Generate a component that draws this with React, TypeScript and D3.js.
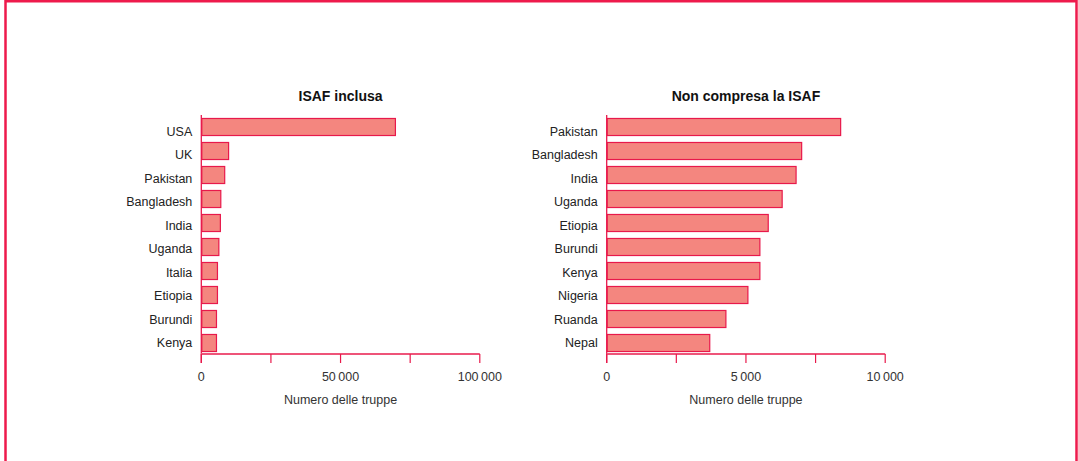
import React from 'react';
import * as d3 from 'd3';

const isafCountries = ['USA', 'UK', 'Pakistan', 'Bangladesh', 'India', 'Uganda', 'Italia', 'Etiopia', 'Burundi', 'Kenya'];
const isafTroops = [69700, 9800, 8400, 7000, 6850, 6300, 5800, 5800, 5450, 5450];
const isafTicks = [0, 25000, 50000, 75000, 100000];
const isafLabelled = [0, 50000, 100000];

const nonIsafCountries = ['Pakistan', 'Bangladesh', 'India', 'Uganda', 'Etiopia', 'Burundi', 'Kenya', 'Nigeria', 'Ruanda', 'Nepal'];
const nonIsafTroops = [8400, 7000, 6800, 6300, 5800, 5500, 5500, 5070, 4280, 3700];
const nonIsafTicks = [0, 2500, 5000, 7500, 10000];
const nonIsafLabelled = [0, 5000, 10000];

const axisTitle = 'Numero delle truppe';

const W = 1078;
const H = 461;
const FONT = '"Liberation Sans", Arial, sans-serif';
const RED = '#e8194b';
const AXIS = '#ee5479';
const FILL = '#f4867f';

const fmt = d3.formatLocale({ decimal: ',', thousands: '\u2009', grouping: [3], currency: ['', '€'] }).format(',d');

type PanelProps = {
    title: string;
    countries: string[];
    values: number[];
    max: number;
    ticks: number[];
    labelled: number[];
    left: number;
};

function Panel({ title, countries, values, max, ticks, labelled, left }: PanelProps) {
    const top = 115;
    const axisY = 354;
    const w = 278.5;

    const x = d3.scaleLinear().domain([0, max]).range([left, left + w]);
    const y = d3.scaleBand<string>()
        .domain(countries)
        .range([top, top + 240])
        .paddingInner(0.29)
        .paddingOuter(0.145);
    // the category labels sit on a slightly tighter pitch than the bars
    const yLabel = d3.scalePoint<string>().domain(countries).range([131.5, 343]);

    return (
        <g>
            <text x={x(max / 2)} y={101} textAnchor="middle" fontFamily={FONT} fontWeight="bold" fontSize={14} fill="#111">
                {title}
            </text>

            {countries.map((c, i) => (
                <g key={c}>
                    <rect
                        x={x(0) + 0.5}
                        y={(y(c) ?? 0)}
                        width={x(values[i]) - x(0) - 0.5}
                        height={y.bandwidth()}
                        fill={FILL}
                        stroke={RED}
                        strokeWidth={1.2}
                    />
                    <text
                        x={left - 9}
                        y={yLabel(c) ?? 0}
                        dy="0.35em"
                        textAnchor="end"
                        fontFamily={FONT}
                        fontSize={12.5}
                        fill="#222"
                    >
                        {c}
                    </text>
                </g>
            ))}

            {/* axes */}
            <line x1={x(0)} x2={x(0)} y1={top} y2={axisY + 9} stroke={RED} strokeWidth={1.3} />
            <line x1={x(0)} x2={x(max)} y1={axisY} y2={axisY} stroke={AXIS} strokeWidth={2} />
            {ticks.map((t) => (
                <line key={t} x1={x(t)} x2={x(t)} y1={axisY} y2={axisY + 9} stroke={RED} strokeWidth={1.2} />
            ))}
            {labelled.map((t) => (
                <text key={t} x={x(t)} y={377} dy="0.35em" textAnchor="middle" fontFamily={FONT} fontSize={12.5} fill="#333">
                    {fmt(t)}
                </text>
            ))}
            <text x={x(max / 2)} y={400} dy="0.35em" textAnchor="middle" fontFamily={FONT} fontSize={12.5} fill="#333">
                {axisTitle}
            </text>
        </g>
    );
}

export default function App() {
    return (
        <svg width={W} height={H} style={{ position: 'absolute', left: 0, top: 0 }}>
            <rect width={W} height={H} fill="#fff" />
            <path d={`M5.5,${H + 5} V1.2 H1076.5 V${H + 5}`} fill="none" stroke="#ee1a4c" strokeWidth={2.5} />
            <Panel title="ISAF inclusa" countries={isafCountries} values={isafTroops} max={100000} ticks={isafTicks} labelled={isafLabelled} left={201.3} />
            <Panel title="Non compresa la ISAF" countries={nonIsafCountries} values={nonIsafTroops} max={10000} ticks={nonIsafTicks} labelled={nonIsafLabelled} left={606.7} />
        </svg>
    );
}
